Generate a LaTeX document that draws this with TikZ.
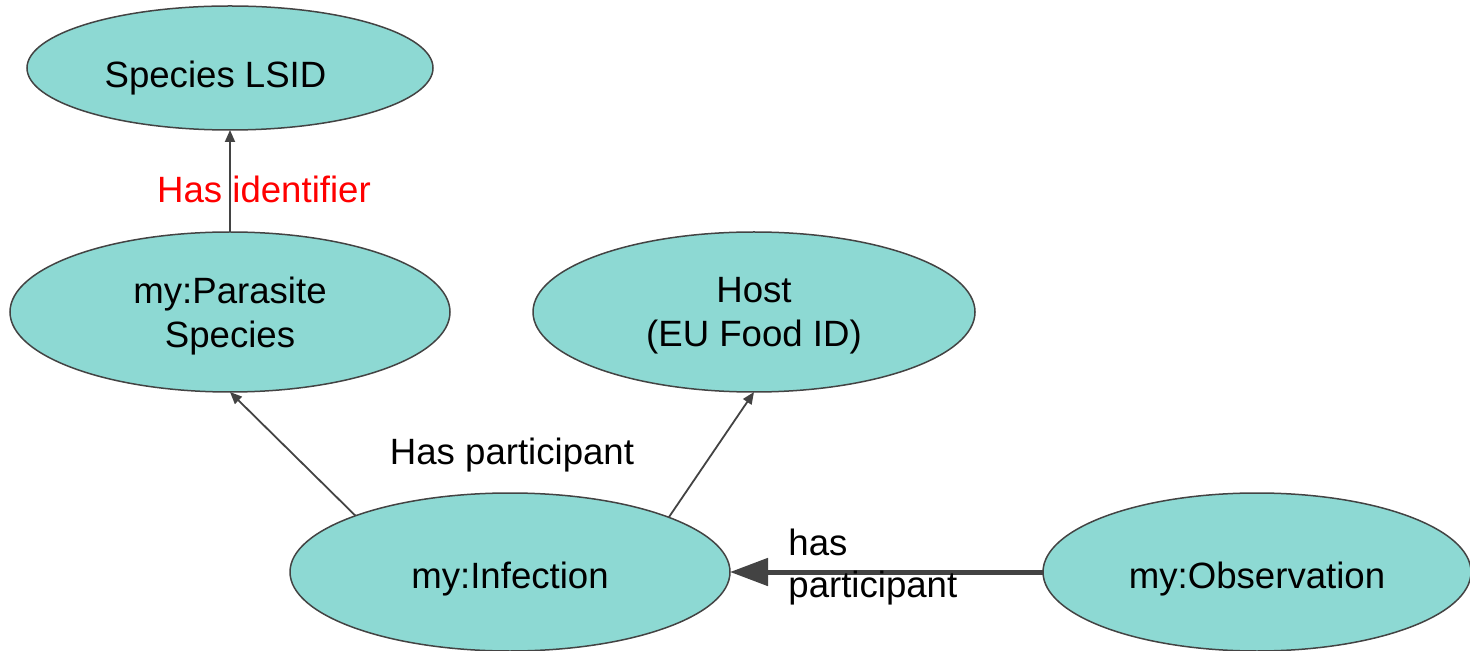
\documentclass[tikz,border=0pt]{standalone}
\usepackage{fontspec}
\setmainfont{Liberation Sans}
\usetikzlibrary{shapes.geometric,arrows.meta}
\definecolor{nodefill}{RGB}{141,217,211}
\definecolor{edgegray}{RGB}{67,67,67}
\definecolor{relred}{RGB}{255,0,0}
\begin{document}
\begin{tikzpicture}[x=0.5pt,y=-0.5pt,
  entity/.style={ellipse, draw=edgegray, line width=0.75pt, fill=nodefill,
    inner sep=0pt, outer sep=0pt, font=\fontsize{18.3pt}{22pt}\selectfont},
  oneline/.style={text height=16pt, text depth=0pt},
  twoline/.style={align=center, text depth=-1pt},
  rel/.style={draw=edgegray, line width=0.9pt, -{Triangle[length=6pt,width=5pt]}},
  strongrel/.style={draw=edgegray, line width=2.5pt, -{Triangle[length=19pt,width=13.5pt]}},
  lbl/.style={font=\fontsize{18.3pt}{21pt}\selectfont, inner sep=0pt, anchor=base}]
  \useasboundingbox (0,0) rectangle (1470,651);

  % entities
  \node[entity, oneline, text height=20pt, minimum width=203pt, minimum height=62pt]
    (lsid) at (230,68) {\hspace*{-14.5pt}Species LSID};
  \node[entity, twoline, minimum width=220pt, minimum height=80pt]
    (parasite) at (230,312) {my:Parasite\\Species};
  \node[entity, twoline, minimum width=221pt, minimum height=80pt]
    (host) at (754,312) {Host\\(EU Food ID)};
  \node[entity, oneline, minimum width=220pt, minimum height=79pt]
    (infection) at (510,572) {my:Infection};
  \node[entity, oneline, minimum width=214pt, minimum height=79pt]
    (observation) at (1257,572) {my:Observation};

  % relations
  \draw[rel] (parasite.north) -- (lsid.south);
  \draw[rel] (infection.160.5) -- (parasite.south);
  \draw[rel] (infection.19.4) -- (host.south);
  \draw[strongrel] (observation.west) -- (infection.east);

  % relation labels (multi-line label sits on its last baseline)
  \node[lbl, text=relred] (lblident) at (264,203) {Has identifier};
  \node[lbl] (lblpart) at (512,465) {Has participant};
  \node[lbl, anchor=base west, align=left] (lblobs) at (788,597) {has\\participant};
\end{tikzpicture}
\end{document}
